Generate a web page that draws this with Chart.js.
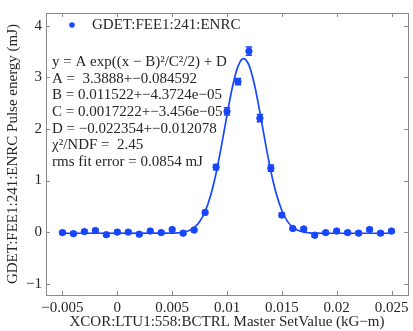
<!DOCTYPE html>
<html>
<head>
<meta charset="utf-8">
<script src="https://cdn.jsdelivr.net/npm/chart.js@4.4.1/dist/chart.umd.min.js"></script>
<style>
html,body{margin:0;padding:0;background:#fff;}
#wrap{width:413px;height:331px;}
.probe{font-family:"Liberation Serif","Times New Roman",Times,serif;position:absolute;left:-999px;top:-999px;}
</style>
</head>
<body>
<div id="wrap"><canvas id="c" width="413" height="331"></canvas></div>
<span class="probe">GDET 0.025</span>
<script>
// ---- data ----
const xValues = [-0.005,-0.004,-0.003,-0.002,-0.001,0,0.001,0.002,0.003,0.004,0.005,0.006,0.007,0.008,0.009,0.010,0.011,0.012,0.013,0.014,0.015,0.016,0.017,0.018,0.019,0.020,0.021,0.022,0.023,0.024,0.025];
const yValues = [-0.01,-0.03,0.01,0.03,-0.05,0.00,0.00,-0.04,0.02,-0.01,0.05,-0.02,0.04,0.38,1.26,2.34,2.92,3.51,2.21,1.24,0.33,0.07,0.06,-0.06,-0.01,0.02,-0.01,-0.02,0.05,-0.02,0.02];
const yErrors = [0.03,0.03,0.03,0.03,0.03,0.03,0.03,0.03,0.03,0.03,0.03,0.03,0.03,0.04,0.05,0.07,0.06,0.08,0.07,0.06,0.04,0.03,0.03,0.03,0.03,0.03,0.03,0.03,0.03,0.03,0.03];
const fitX = [-0.005,0.005,0.0055,0.006,0.0065,0.007,0.0075,0.008,0.0085,0.009,0.0095,0.010,0.0105,0.011,0.0115,0.012,0.0125,0.013,0.0135,0.014,0.0145,0.015,0.0155,0.016,0.0165,0.017,0.0175,0.018,0.019,0.025];
const fitY = [-0.022,-0.020,-0.015,-0.003,0.026,0.086,0.199,0.396,0.705,1.137,1.679,2.271,2.819,3.214,3.366,3.238,2.862,2.322,1.730,1.181,0.738,0.419,0.213,0.093,0.030,-0.001,-0.014,-0.020,-0.022,-0.022];
const legendLabel = 'GDET:FEE1:241:ENRC';
const fitText = [
  'y = A exp((x \u2212 B)\u00B2/C\u00B2/2) + D',
  'A =  3.3888+\u22120.084592',
  'B = 0.011522+\u22124.3724e\u221205',
  'C = 0.0017222+\u22123.456e\u221205',
  'D = \u22120.022354+\u22120.012078',
  '\u03C7\u00B2/NDF =  2.45',
  'rms fit error = 0.0854 mJ'
];
const xTitle = 'XCOR:LTU1:558:BCTRL Master SetValue (kG\u2212m)';
const yTitle = 'GDET:FEE1:241:ENRC Pulse energy (mJ)';

const BLUE = 'rgb(25,70,255)';
const TXT = '#262626';
const FONT = '"Liberation Serif", "Times New Roman", Times, serif';

function fmt(v){
  const s = String(Number(v.toFixed(4)));
  return s.replace('-', '\u2212');
}

const extras = {
  id: 'extras',
  afterDatasetsDraw(chart){
    const ctx = chart.ctx;
    const xs = chart.scales.x, ys = chart.scales.y;
    ctx.save();
    ctx.strokeStyle = BLUE;
    ctx.lineWidth = 1.5;
    for (let i = 0; i < xValues.length; i++){
      const px = xs.getPixelForValue(xValues[i]);
      const y1 = ys.getPixelForValue(yValues[i] + yErrors[i]);
      const y2 = ys.getPixelForValue(yValues[i] - yErrors[i]);
      ctx.beginPath();
      ctx.moveTo(px, y1); ctx.lineTo(px, y2);
      ctx.moveTo(px-3.2, y1); ctx.lineTo(px+3.2, y1);
      ctx.moveTo(px-3.2, y2); ctx.lineTo(px+3.2, y2);
      ctx.stroke();
    }
    ctx.restore();
  },
  afterDraw(chart){
    const ctx = chart.ctx;
    const xs = chart.scales.x, ys = chart.scales.y;
    const a = chart.chartArea;
    ctx.save();
    ctx.strokeStyle = '#8a8a8a';
    ctx.lineWidth = 1;
    ctx.strokeRect(Math.round(a.left)+0.5, Math.round(a.top)+0.5, Math.round(a.right-a.left), Math.round(a.bottom-a.top));
    ctx.beginPath();
    xs.ticks.forEach(t => {
      const px = Math.round(xs.getPixelForValue(t.value)) + 0.5;
      ctx.moveTo(px, a.bottom); ctx.lineTo(px, a.bottom - 4);
      ctx.moveTo(px, a.top); ctx.lineTo(px, a.top + 4);
    });
    ys.ticks.forEach(t => {
      const py = Math.round(ys.getPixelForValue(t.value)) + 0.5;
      ctx.moveTo(a.left, py); ctx.lineTo(a.left + 4, py);
      ctx.moveTo(a.right, py); ctx.lineTo(a.right - 4, py);
    });
    ctx.stroke();
    ctx.fillStyle = BLUE;
    ctx.beginPath();
    ctx.arc(72, 25, 2.8, 0, Math.PI*2);
    ctx.fill();
    ctx.fillStyle = TXT;
    ctx.font = '15px ' + FONT;
    ctx.textBaseline = 'middle';
    ctx.textAlign = 'left';
    ctx.fillText(legendLabel, 92, 25);
    fitText.forEach((line, i) => {
      ctx.fillText(line, 52, 62 + i*16.7);
    });
    ctx.restore();
  }
};

function build(){
  new Chart(document.getElementById('c'), {
    data: {
      datasets: [
        {
          type: 'line',
          label: 'fit',
          data: fitX.map((x, i) => ({x: x, y: fitY[i]})),
          borderColor: BLUE,
          borderWidth: 1.7,
          pointRadius: 0,
          cubicInterpolationMode: 'monotone',
          fill: false
        },
        {
          type: 'scatter',
          label: legendLabel,
          data: xValues.map((x, i) => ({x: x, y: yValues[i]})),
          backgroundColor: BLUE,
          borderColor: BLUE,
          pointRadius: 3.2,
          pointStyle: 'circle',
          showLine: false
        }
      ]
    },
    options: {
      responsive: false,
      animation: false,
      devicePixelRatio: 1,
      layout: { padding: { left: 0, top: 7, right: 5, bottom: 0 } },
      plugins: { legend: { display: false }, tooltip: { enabled: false } },
      scales: {
        x: {
          type: 'linear',
          min: -0.0065,
          max: 0.0265,
          grid: { display: false, drawTicks: false },
          border: { display: false },
          ticks: {
            stepSize: 0.005,
            includeBounds: false,
            autoSkip: false,
            maxRotation: 0,
            padding: 4,
            color: TXT,
            font: { family: FONT, size: 15 },
            callback: v => fmt(v)
          },
          title: {
            display: true,
            text: xTitle,
            color: TXT,
            font: { family: FONT, size: 15 },
            padding: { top: 0, bottom: 0 }
          },
          afterFit: s => { s.height = 36; }
        },
        y: {
          type: 'linear',
          min: -1.22,
          max: 4.25,
          grid: { display: false, drawTicks: false },
          border: { display: false },
          ticks: {
            stepSize: 1,
            includeBounds: false,
            padding: 4,
            color: TXT,
            font: { family: FONT, size: 15 },
            callback: v => fmt(v)
          },
          title: {
            display: true,
            text: yTitle,
            color: TXT,
            font: { family: FONT, size: 15 },
            padding: { top: 4, bottom: 0 }
          },
          afterFit: s => { s.width = 46; }
        }
      }
    },
    plugins: [extras]
  });
}
if (document.fonts && document.fonts.load) {
  Promise.all([
    document.fonts.load('15px "Liberation Serif"'),
    document.fonts.load('15px "Times New Roman"')
  ]).then(build, build);
} else {
  build();
}
</script>
</body>
</html>
